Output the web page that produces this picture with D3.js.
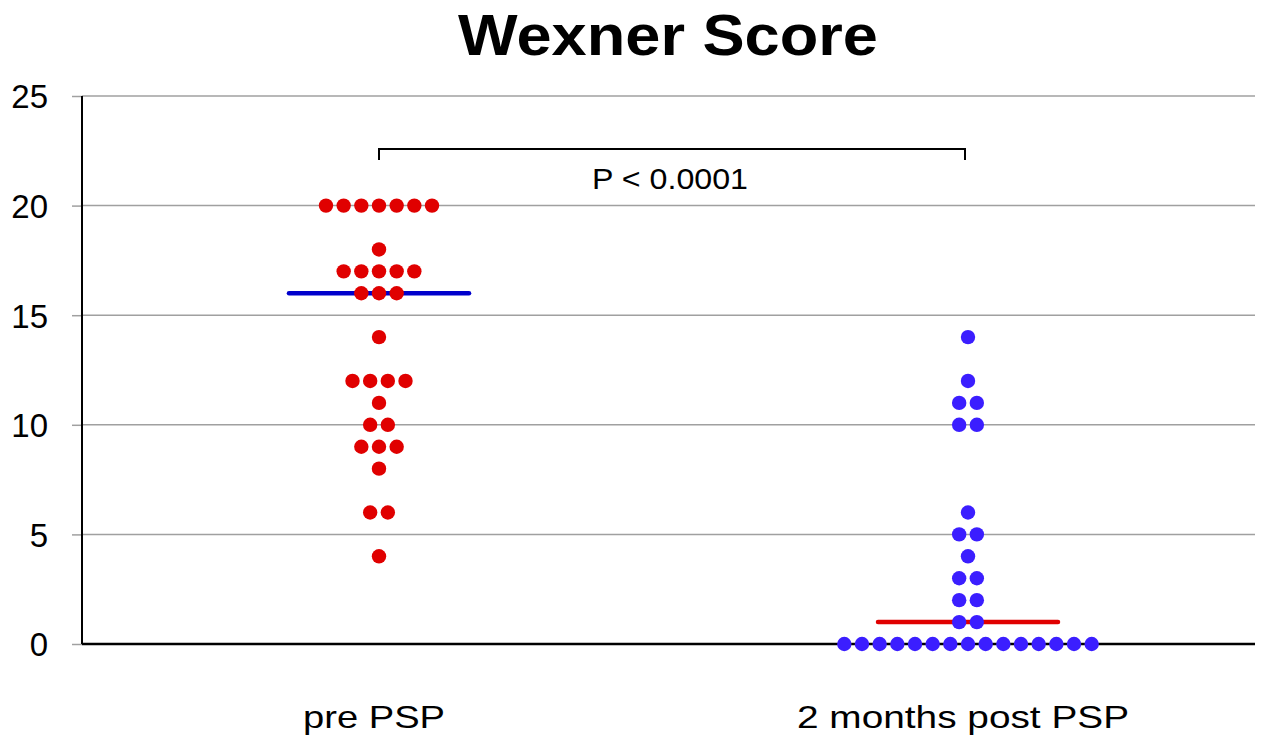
<!DOCTYPE html>
<html>
<head>
<meta charset="utf-8">
<script src="https://cdn.jsdelivr.net/npm/d3@7"></script>
<style>
  body { margin: 0; background: #fff; }
  text { font-family: "Liberation Sans", Arial, sans-serif; }
</style>
</head>
<body>
<svg id="chart" width="1263" height="737"></svg>
<script>
// categories and values
var groups = ['pre PSP', '2 months post PSP'];
var preValues = [20,20,20,20,20,20,20, 18, 17,17,17,17,17, 16,16,16, 14, 12,12,12,12, 11, 10,10, 9,9,9, 8, 6,6, 4];
var postValues = [14, 12, 11,11, 10,10, 6, 5,5, 4, 3,3, 2,2, 1,1, 0,0,0,0,0,0,0,0,0,0,0,0,0,0,0];
var medians = [16, 1];
var yTicks = [0, 5, 10, 15, 20, 25];
var pLabel = 'P < 0.0001';

var width = 1263, height = 737,
    plotLeft = 82, plotRight = 1255, plotTop = 96, plotBottom = 644;

var svg = d3.select('#chart');

var y = d3.scaleLinear().domain([0, 25]).range([plotBottom, plotTop]);
var x = d3.scalePoint().domain(groups).range([84.5, 1262.5]).padding(0.5);

var dotColors = ['#e00000', '#3b1eff'],
    medianColors = ['#0000cc', '#e00000'],
    spacing = 17.67,
    r = 7.2;

// title (the original text is drawn a bit wide)
svg.append('text').attr('x', 668).attr('y', 55).attr('text-anchor', 'middle')
    .attr('textLength', 420).attr('lengthAdjust', 'spacingAndGlyphs')
    .style('font-size', '57px').style('font-weight', 'bold').text('Wexner Score');

// grid lines
svg.append('g').selectAll('line').data(yTicks.filter(function(d) { return d > 0; })).enter().append('line')
    .attr('x1', plotLeft).attr('x2', plotRight)
    .attr('y1', function(d) { return y(d); }).attr('y2', function(d) { return y(d); })
    .attr('stroke', '#a0a0a0').attr('stroke-width', 1.5);

// y axis
var yAxis = d3.axisLeft(y).tickValues(yTicks).tickSize(10).tickPadding(24);
var ya = svg.append('g').attr('transform', 'translate(' + plotLeft + ',0)').call(yAxis);
ya.select('.domain').remove();
ya.selectAll('.tick line').attr('stroke', '#a0a0a0').attr('stroke-width', 1.5);
ya.selectAll('.tick text').style('font-size', '33px').style('font-family', '"Liberation Sans", Arial, sans-serif')
    .attr('fill', '#000').attr('dy', '0.36em');
svg.append('line').attr('x1', plotLeft).attr('x2', plotLeft).attr('y1', plotTop).attr('y2', plotBottom)
    .attr('stroke', '#000').attr('stroke-width', 2);
svg.append('line').attr('x1', plotLeft).attr('x2', plotRight).attr('y1', plotBottom).attr('y2', plotBottom)
    .attr('stroke', '#000').attr('stroke-width', 2.5);

// x labels
var labelWidths = [142, 332];
svg.append('g').selectAll('text').data(groups).enter().append('text')
    .attr('x', function(d) { return x(d) - 5; }).attr('y', 728)
    .attr('text-anchor', 'middle').style('font-size', '32px')
    .attr('textLength', function(d, i) { return labelWidths[i]; }).attr('lengthAdjust', 'spacingAndGlyphs')
    .text(function(d) { return d; });

// dots arranged side by side per value
function swarm(values, cat) {
    var counts = d3.rollup(values, function(v) { return v.length; }, function(d) { return d; });
    var seen = new Map();
    return values.map(function(v) {
        var n = counts.get(v), i = seen.get(v) || 0;
        seen.set(v, i + 1);
        return { cx: x(cat) + (i - (n - 1) / 2) * spacing, cy: y(v) };
    });
}

var medianW = 90;
[preValues, postValues].forEach(function(values, gi) {
    var cat = groups[gi];
    var pts = swarm(values, cat);
    svg.append('line')
        .attr('x1', x(cat) - medianW).attr('x2', x(cat) + medianW)
        .attr('y1', y(medians[gi])).attr('y2', y(medians[gi]))
        .attr('stroke', medianColors[gi]).attr('stroke-width', 4.5).attr('stroke-linecap', 'round');
    svg.append('g').selectAll('circle').data(pts).enter().append('circle')
        .attr('cx', function(d) { return d.cx; }).attr('cy', function(d) { return d.cy; })
        .attr('r', r).attr('fill', dotColors[gi]);
});

// significance bracket
var bx1 = x(groups[0]), bx2 = x(groups[1]) - 3, by = 149;
svg.append('path')
    .attr('d', 'M' + bx1 + ',' + (by + 11) + 'V' + by + 'H' + bx2 + 'V' + (by + 11))
    .attr('fill', 'none').attr('stroke', '#000').attr('stroke-width', 2);
svg.append('text').attr('x', 670).attr('y', 189).attr('text-anchor', 'middle')
    .attr('textLength', 156).attr('lengthAdjust', 'spacingAndGlyphs')
    .style('font-size', '30px').text(pLabel);
</script>
</body>
</html>
